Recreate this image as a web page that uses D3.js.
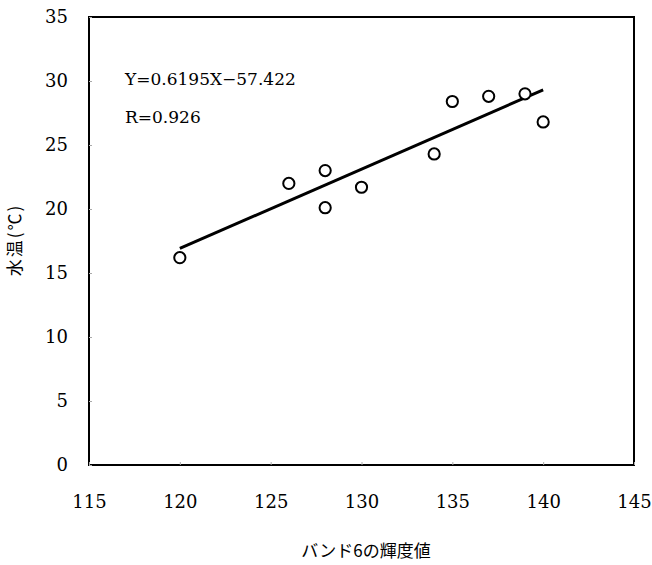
<!DOCTYPE html>
<html>
<head>
<meta charset="utf-8">
<script src="https://cdn.jsdelivr.net/npm/d3@7"></script>
<style>
  body { margin: 0; background: #fff; }
</style>
</head>
<body>
<svg id="chart" width="652" height="565"></svg>
<script>
// band 6 brightness vs water temperature
var band6 = [120, 126, 128, 128, 130, 134, 135, 137, 139, 140];
var waterTemp = [16.2, 22.0, 23.0, 20.1, 21.7, 24.3, 28.4, 28.8, 29.0, 26.8];
var xTicks = [115, 120, 125, 130, 135, 140, 145];
var yTicks = [0, 5, 10, 15, 20, 25, 30, 35];
var slope = 0.6195, intercept = -57.422, rValue = 0.926;
var fitRange = [120, 140];

var serif = "DejaVu Serif";
var jp = "Noto Sans CJK JP";

var margin = {top: 17, right: 18, bottom: 100, left: 89};
var width = 652 - margin.left - margin.right;
var height = 565 - margin.top - margin.bottom;

var svg = d3.select("#chart");
var g = svg.append("g")
    .attr("transform", "translate(" + margin.left + "," + margin.top + ")");

var x = d3.scaleLinear().domain([115, 145]).range([0, width]);
var y = d3.scaleLinear().domain([0, 35]).range([height, 0]);

// frame
g.append("rect")
    .attr("width", width)
    .attr("height", height)
    .attr("fill", "none")
    .attr("stroke", "#000")
    .attr("stroke-width", 2);

// axes - ticks are nearly invisible in the original, labels only
var xAxis = g.append("g")
    .attr("class", "x axis")
    .attr("transform", "translate(0," + height + ")")
    .call(d3.axisBottom(x).tickValues(xTicks).tickSize(-3).tickPadding(30))
    .attr("font-family", serif)
    .attr("font-size", 18);
var yAxis = g.append("g")
    .attr("class", "y axis")
    .call(d3.axisLeft(y).tickValues(yTicks).tickSize(-3).tickPadding(21))
    .attr("font-family", serif)
    .attr("font-size", 18);

xAxis.select(".domain").remove();
yAxis.select(".domain").remove();
g.selectAll(".axis .tick line").attr("stroke", "#aaa");
g.selectAll(".axis .tick text").attr("fill", "#000");

// regression line
g.append("line")
    .attr("x1", x(fitRange[0]))
    .attr("y1", y(slope * fitRange[0] + intercept))
    .attr("x2", x(fitRange[1]))
    .attr("y2", y(slope * fitRange[1] + intercept))
    .attr("stroke", "#000")
    .attr("stroke-width", 3);

// points
g.selectAll(".pt")
    .data(band6)
  .enter().append("circle")
    .attr("class", "pt")
    .attr("cx", function(d) { return x(d); })
    .attr("cy", function(d, i) { return y(waterTemp[i]); })
    .attr("r", 5.6)
    .attr("fill", "#fff")
    .attr("stroke", "#000")
    .attr("stroke-width", 2);

// equation text
g.append("text")
    .attr("x", 36)
    .attr("y", 68)
    .attr("font-family", serif)
    .attr("font-size", 17)
    .text("Y=" + slope + "X\u2212" + Math.abs(intercept));
g.append("text")
    .attr("x", 36)
    .attr("y", 106)
    .attr("font-family", serif)
    .attr("font-size", 17)
    .text("R=" + rValue);

// axis titles
svg.append("text")
    .attr("x", 366)
    .attr("y", 557)
    .attr("text-anchor", "middle")
    .attr("font-family", jp)
    .attr("font-size", 17)
    .text("バンド6の輝度値");

svg.append("text")
    .attr("transform", "translate(21,240) rotate(-90)")
    .attr("text-anchor", "middle")
    .attr("font-family", jp)
    .attr("font-size", 17)
    .attr("letter-spacing", 2)
    .text("水温(℃)");
</script>
</body>
</html>
